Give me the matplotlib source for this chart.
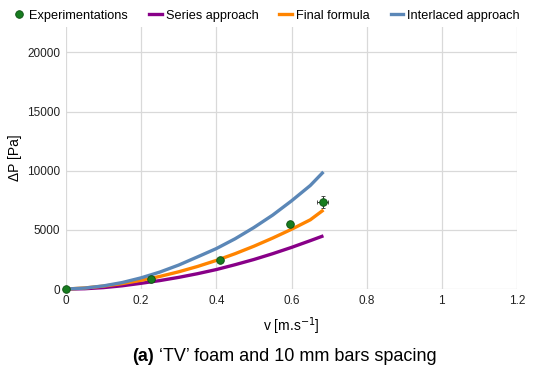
import numpy as np
import matplotlib.pyplot as plt
from matplotlib.lines import Line2D

plt.rcParams['font.family'] = ['Liberation Sans', 'DejaVu Sans']

# experimental points
v_exp = [0.0, 0.225, 0.411, 0.595, 0.683]
dp_exp = [0, 880, 2450, 5470, 7370]
v_err = [0.0, 0.008, 0.006, 0.008, 0.015]
dp_err = [0, 120, 130, 250, 480]

# model curves
v_model = [0.0, 0.05, 0.1, 0.15, 0.2, 0.25, 0.3, 0.35, 0.4, 0.45, 0.5, 0.55, 0.6, 0.65, 0.685]
dp_series = [0, 30, 125, 280, 490, 720, 990, 1300, 1650, 2060, 2500, 2990, 3520, 4090, 4500]
dp_final = [0, 95, 250, 465, 740, 1070, 1460, 1910, 2420, 2990, 3620, 4310, 5050, 5850, 6680]
dp_interlaced = [0, 85, 270, 555, 950, 1440, 2030, 2720, 3420, 4250, 5200, 6250, 7450, 8750, 9900]

xticks = [0, 0.2, 0.4, 0.6, 0.8, 1, 1.2]
xticklabels = ['0', '0.2', '0.4', '0.6', '0.8', '1', '1.2']
yticks = [0, 5000, 10000, 15000, 20000]

c_exp = '#177c1f'
c_series = '#880088'
c_final = '#ff8400'
c_inter = '#5b87b7'

fig = plt.figure(figsize=(5.5, 3.73), dpi=100)
ax = fig.add_axes([0.12, 0.225, 0.82, 0.703])

for dp, c in [(dp_series, c_series), (dp_final, c_final), (dp_interlaced, c_inter)]:
    ax.plot(v_model, dp, color=c, lw=2.4, zorder=3, solid_capstyle='butt', clip_on=False)
eb = ax.errorbar(v_exp, dp_exp, xerr=v_err, yerr=dp_err, fmt='o', color=c_exp,
                 mec='#0d4f12', mew=0.6, ms=5.5, ecolor='#333333', elinewidth=0.7,
                 capsize=1.5, zorder=4)
for a in eb.get_children():
    a.set_clip_on(False)

ax.set_xlim(0, 1.2)
ax.set_ylim(0, 22150)
ax.set_xticks(xticks)
ax.set_xticklabels(xticklabels)
ax.set_yticks(yticks)
ax.tick_params(length=0, labelsize=8.5, pad=4, labelcolor='#222222')
ax.grid(True, color='#d9d9d9', lw=0.9)
ax.set_axisbelow(True)
for s in ax.spines.values():
    s.set_visible(False)
ax.set_xlabel('v [m.s$^{-1}$]', fontsize=10, labelpad=6)
ax.set_ylabel('ΔP [Pa]', fontsize=10, labelpad=4)

handles = [
    Line2D([], [], ls='none', marker='o', ms=5.5, color=c_exp, mec='#0d4f12', mew=0.6),
    Line2D([], [], color=c_series, lw=2.4),
    Line2D([], [], color=c_final, lw=2.4),
    Line2D([], [], color=c_inter, lw=2.4),
]
labels = ['Experimentations', 'Series approach', 'Final formula', 'Interlaced approach']
fig.legend(handles, labels, loc='upper center', bbox_to_anchor=(0.484, 1.0), ncol=4,
           frameon=False, fontsize=9.2, handlelength=1.0, handletextpad=0.3,
           columnspacing=1.65, borderaxespad=0.35)

# caption: bold "(a)" followed by normal text
fig.canvas.draw()
r = fig.canvas.get_renderer()
t1 = fig.text(0, 0.045, '(a)', fontsize=13, fontweight='bold', va='center')
t2 = fig.text(0, 0.045, ' ‘TV’ foam and 10 mm bars spacing', fontsize=13, va='center')
w1 = t1.get_window_extent(r).width / fig.bbox.width
w2 = t2.get_window_extent(r).width / fig.bbox.width
x0 = 0.517 - (w1 + w2) / 2
t1.set_x(x0)
t2.set_x(x0 + w1)

fig.savefig('out.png', dpi=100)
